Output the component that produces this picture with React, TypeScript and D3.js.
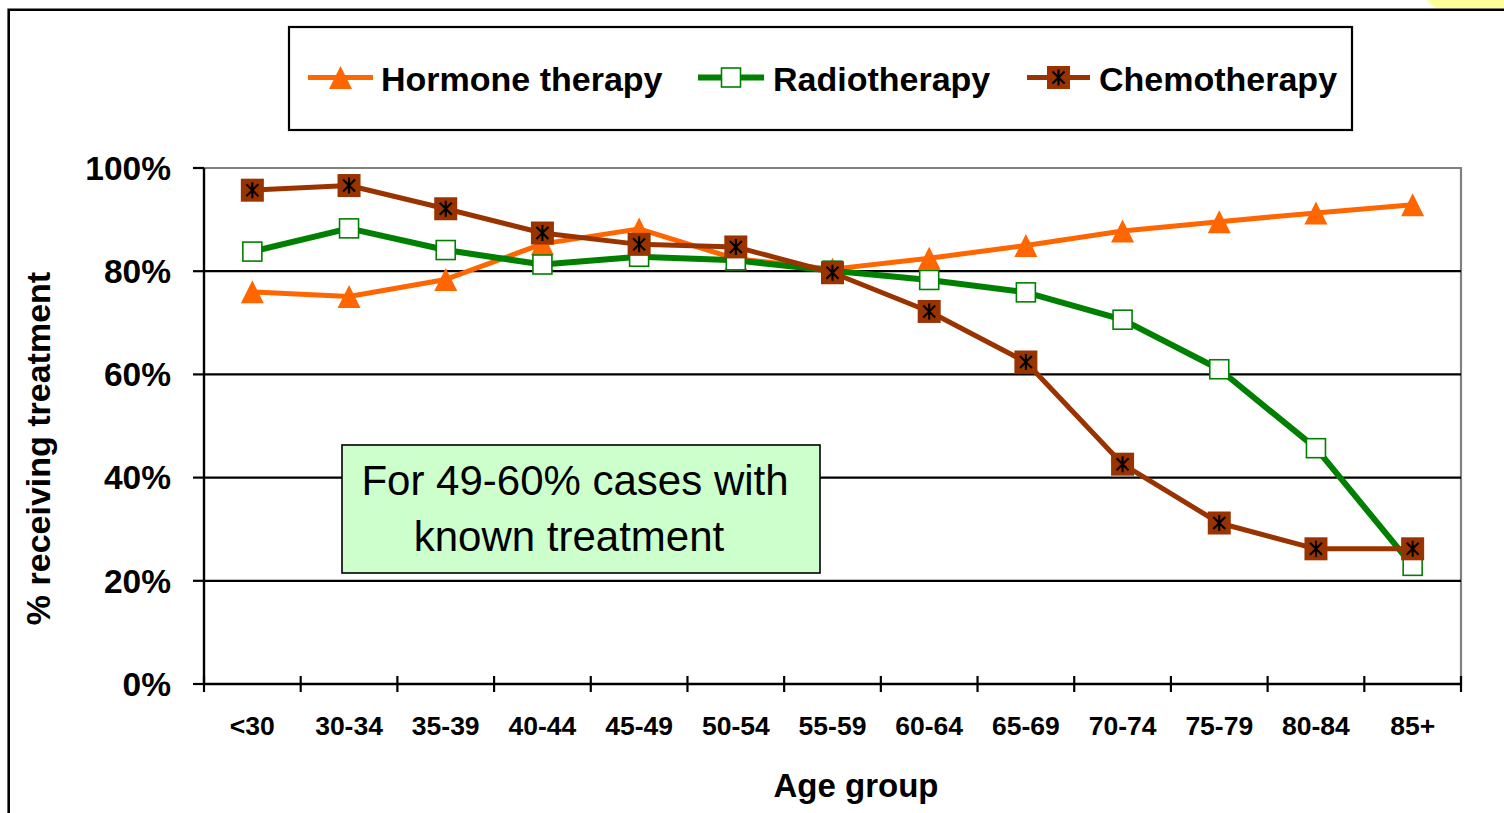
import React from "react";
import * as d3 from "d3";

// Age groups along the x axis
const ageGroups = ["<30", "30-34", "35-39", "40-44", "45-49", "50-54", "55-59", "60-64", "65-69", "70-74", "75-79", "80-84", "85+"];

// Share of patients receiving each treatment (%)
const hormoneTherapy = [76.0, 75.1, 78.4, 85.3, 88.2, 82.4, 80.4, 82.5, 85.0, 87.8, 89.6, 91.3, 92.9];
const radiotherapy = [83.8, 88.3, 84.1, 81.3, 82.8, 82.1, 80.1, 78.3, 75.9, 70.6, 61.0, 45.7, 22.9];
const chemotherapy = [95.7, 96.6, 92.1, 87.4, 85.2, 84.7, 79.7, 72.2, 62.4, 42.6, 31.2, 26.2, 26.2];

const yTicks = [0, 20, 40, 60, 80, 100];

const seriesNames = ["Hormone therapy", "Radiotherapy", "Chemotherapy"];

const FONT = "'Liberation Sans', Arial, Helvetica, sans-serif";
const ORANGE = "#FF6600";
const GREEN = "#008000";
const BROWN = "#993300";

const W = 1504;
const H = 813;
const plot = { left: 204, right: 1461, top: 168, bottom: 684 };

function Triangle({ x, y }: { x: number; y: number }) {
  const s = 11.5;
  return <path d={`M${x},${y - s} L${x + s},${y + s} L${x - s},${y + s} Z`} fill={ORANGE} />;
}

function OpenSquare({ x, y }: { x: number; y: number }) {
  const s = 9.5;
  return <rect x={x - s} y={y - s} width={2 * s} height={2 * s} fill="#fff" stroke={GREEN} strokeWidth={1.6} />;
}

function StarSquare({ x, y }: { x: number; y: number }) {
  const s = 11.5;
  const a = 8;
  const d = 6;
  return (
    <g>
      <rect x={x - s} y={y - s} width={2 * s} height={2 * s} fill={BROWN} />
      <path
        d={`M${x},${y - a} L${x},${y + a} M${x - d},${y - d} L${x + d},${y + d} M${x + d},${y - d} L${x - d},${y + d}`}
        stroke="#000"
        strokeWidth={2.1}
        fill="none"
      />
    </g>
  );
}

export default function App() {
  const x = d3.scaleBand<string>().domain(ageGroups).range([plot.left, plot.right]).padding(0);
  const y = d3.scaleLinear().domain([0, 100]).range([plot.bottom, plot.top]);
  const cx = (g: string) => (x(g) as number) + x.bandwidth() / 2;

  const line = d3
    .line<number>()
    .x((_, i) => cx(ageGroups[i]))
    .y((v) => y(v));

  const boundaries = d3.range(ageGroups.length + 1).map((i) => plot.left + i * x.bandwidth());

  const series = [
    { name: seriesNames[0], values: hormoneTherapy, color: ORANGE, width: 5, Marker: Triangle },
    { name: seriesNames[1], values: radiotherapy, color: GREEN, width: 6, Marker: OpenSquare },
    { name: seriesNames[2], values: chemotherapy, color: BROWN, width: 5, Marker: StarSquare },
  ];

  const legendItems = [
    { lineX: [308, 373], textX: 381 },
    { lineX: [698, 764], textX: 773 },
    { lineX: [1027, 1090], textX: 1099 },
  ];

  return (
    <svg width={W} height={H} style={{ position: "absolute", left: 0, top: 0, background: "#fff" }} fontFamily={FONT}>
      {/* corner of a neighbouring shape */}
      <path d="M1427,0 L1504,0 L1504,8.5 L1438,8.5 Q1431,6 1427,0 Z" fill="#FFFF99" />

      {/* outer frame */}
      <path d={`M8.7,${H + 5} L8.7,9.7 L${W + 5},9.7`} fill="none" stroke="#000" strokeWidth={2.6} />

      {/* plot area border (top/right) */}
      <path
        d={`M${plot.left},${plot.top} L${plot.right},${plot.top} L${plot.right},${plot.bottom}`}
        fill="none"
        stroke="#808080"
        strokeWidth={2.2}
      />

      {/* horizontal gridlines */}
      {yTicks
        .filter((t) => t > 0 && t < 100)
        .map((t) => (
          <line key={t} x1={plot.left} x2={plot.right} y1={y(t)} y2={y(t)} stroke="#000" strokeWidth={2.2} />
        ))}

      {/* y axis */}
      <line x1={plot.left} x2={plot.left} y1={plot.top} y2={plot.bottom} stroke="#000" strokeWidth={2.4} />
      {yTicks.map((t) => (
        <g key={t}>
          <line x1={plot.left - 11} x2={plot.left} y1={y(t)} y2={y(t)} stroke="#000" strokeWidth={2.2} />
          <text x={171} y={y(t)} dy="0.35em" textAnchor="end" fontSize={33.5} fontWeight="bold" fill="#000">
            {`${t}%`}
          </text>
        </g>
      ))}

      {/* x axis */}
      <line x1={plot.left} x2={plot.right} y1={plot.bottom} y2={plot.bottom} stroke="#000" strokeWidth={2.4} />
      {boundaries.map((bx, i) => (
        <line key={i} x1={bx} x2={bx} y1={plot.bottom - 8} y2={plot.bottom + 8} stroke="#000" strokeWidth={2.2} />
      ))}
      {ageGroups.map((g) => (
        <text key={g} x={cx(g)} y={735} textAnchor="middle" fontSize={26.5} fontWeight="bold" fill="#000">
          {g}
        </text>
      ))}

      {/* axis titles */}
      <text x={856} y={797} textAnchor="middle" fontSize={33} fontWeight="bold" fill="#000">
        Age group
      </text>
      <text
        transform={`translate(50,448.5) rotate(-90)`}
        textAnchor="middle"
        fontSize={34}
        fontWeight="bold"
        fill="#000"
      >
        % receiving treatment
      </text>

      {/* annotation */}
      <rect x={342} y={445} width={478} height={128} fill="#CCFFCC" stroke="#000" strokeWidth={1.6} />
      <text x={575} y={495} textAnchor="middle" fontSize={42} fill="#000">
        For 49-60% cases with
      </text>
      <text x={569} y={551} textAnchor="middle" fontSize={42} fill="#000">
        known treatment
      </text>

      {/* series */}
      {series.map((s) => (
        <g key={s.name}>
          <path d={line(s.values) || ""} fill="none" stroke={s.color} strokeWidth={s.width} strokeLinejoin="round" />
          {s.values.map((v, i) => (
            <s.Marker key={i} x={cx(ageGroups[i])} y={y(v)} />
          ))}
        </g>
      ))}

      {/* legend */}
      <rect x={289} y={27} width={1063} height={103} fill="#fff" stroke="#000" strokeWidth={2.2} />
      {series.map((s, i) => {
        const li = legendItems[i];
        const mx = (li.lineX[0] + li.lineX[1]) / 2;
        return (
          <g key={s.name}>
            <line x1={li.lineX[0]} x2={li.lineX[1]} y1={77.5} y2={77.5} stroke={s.color} strokeWidth={s.width} />
            <s.Marker x={mx} y={77.5} />
            <text x={li.textX} y={91} fontSize={34} fontWeight="bold" fill="#000">
              {s.name}
            </text>
          </g>
        );
      })}
    </svg>
  );
}
